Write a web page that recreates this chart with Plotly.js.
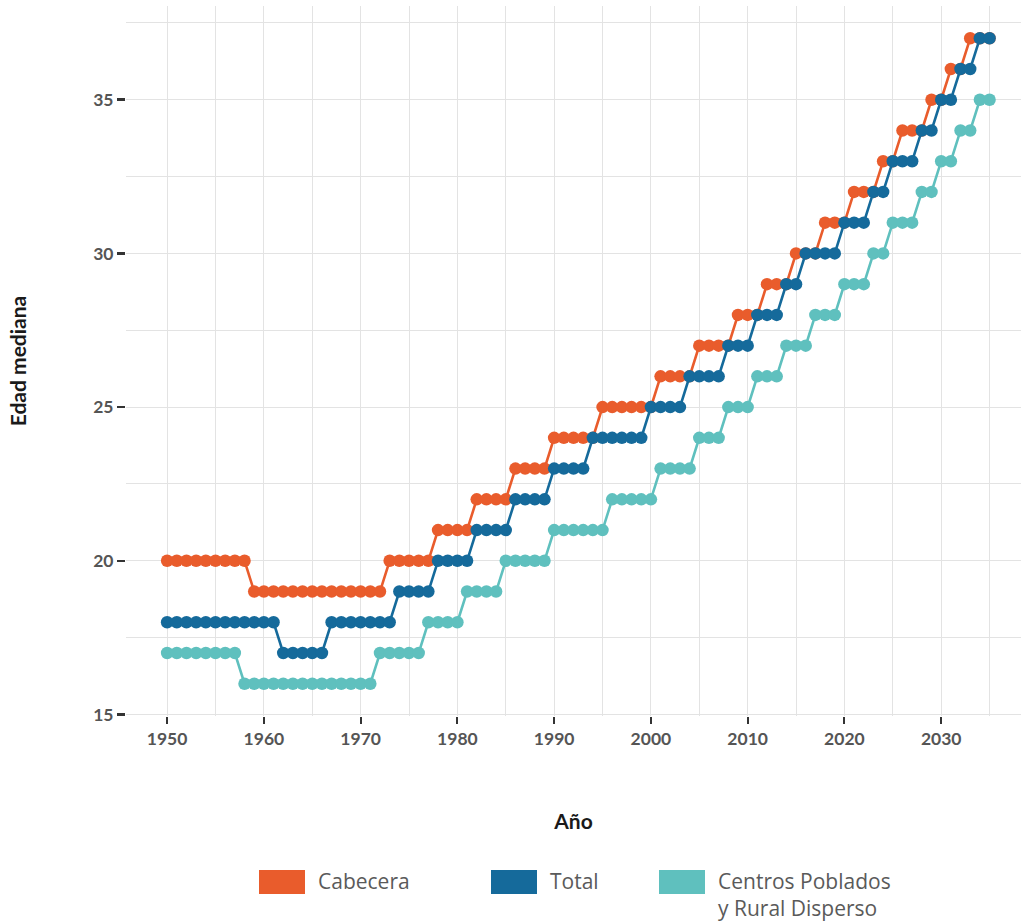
<!DOCTYPE html>
<html>
<head>
<meta charset="utf-8">
<script src="https://cdn.plot.ly/plotly-3.0.1.min.js"></script>
<style>
html,body{margin:0;padding:0;background:#fff;}
#chart{width:1021px;height:924px;}
</style>
</head>
<body>
<div id="chart"></div>
<script>
const years = [1950,1951,1952,1953,1954,1955,1956,1957,1958,1959,
  1960,1961,1962,1963,1964,1965,1966,1967,1968,1969,
  1970,1971,1972,1973,1974,1975,1976,1977,1978,1979,
  1980,1981,1982,1983,1984,1985,1986,1987,1988,1989,
  1990,1991,1992,1993,1994,1995,1996,1997,1998,1999,
  2000,2001,2002,2003,2004,2005,2006,2007,2008,2009,
  2010,2011,2012,2013,2014,2015,2016,2017,2018,2019,
  2020,2021,2022,2023,2024,2025,2026,2027,2028,2029,
  2030,2031,2032,2033,2034,2035];

const cabecera = [20,20,20,20,20,20,20,20,20,19,
  19,19,19,19,19,19,19,19,19,19,
  19,19,19,20,20,20,20,20,21,21,
  21,21,22,22,22,22,23,23,23,23,
  24,24,24,24,24,25,25,25,25,25,
  25,26,26,26,26,27,27,27,27,28,
  28,28,29,29,29,30,30,30,31,31,
  31,32,32,32,33,33,34,34,34,35,
  35,36,36,37,37,37];

const total = [18,18,18,18,18,18,18,18,18,18,
  18,18,17,17,17,17,17,18,18,18,
  18,18,18,18,19,19,19,19,20,20,
  20,20,21,21,21,21,22,22,22,22,
  23,23,23,23,24,24,24,24,24,24,
  25,25,25,25,26,26,26,26,27,27,
  27,28,28,28,29,29,30,30,30,30,
  31,31,31,32,32,33,33,33,34,34,
  35,35,36,36,37,37];

const rural = [17,17,17,17,17,17,17,17,16,16,
  16,16,16,16,16,16,16,16,16,16,
  16,16,17,17,17,17,17,18,18,18,
  18,19,19,19,19,20,20,20,20,20,
  21,21,21,21,21,21,22,22,22,22,
  22,23,23,23,23,24,24,24,25,25,
  25,26,26,26,27,27,27,28,28,28,
  29,29,29,30,30,31,31,31,32,32,
  33,33,34,34,35,35];

const seriesNames = ['Cabecera', 'Total', 'Centros Poblados<br>y Rural Disperso'];
const seriesColors = ['#E95C2C', '#156A9B', '#5FC0BE'];
const seriesValues = [cabecera, total, rural];

const xTickVals = [1950,1960,1970,1980,1990,2000,2010,2020,2030];
const yTickVals = [15,20,25,30,35];

const W = 1021, H = 924;
const M = {l:126, r:0, t:6, b:208};
const PW = W - M.l - M.r, PH = H - M.t - M.b;
const px = x => (x - M.l) / PW;
const py = y => (H - M.b - y) / PH;

const traces = seriesValues.map((vals, i) => ({
  type: 'scatter',
  mode: 'lines+markers',
  x: years,
  y: vals,
  name: seriesNames[i],
  showlegend: false,
  line: {color: seriesColors[i], width: 2.6},
  marker: {color: seriesColors[i], size: 12.5},
  hoverinfo: 'x+y+name'
}));

// legend built from swatch shapes + text annotations
const legendSwatchX = [259, 491, 659];
const shapes = [];
const annotations = [];
seriesNames.forEach((n, i) => {
  const x0 = legendSwatchX[i];
  shapes.push({type:'rect', xref:'paper', yref:'paper',
    x0: px(x0), x1: px(x0 + 46), y0: py(894), y1: py(870),
    fillcolor: seriesColors[i], line:{width:0}});
  annotations.push({xref:'paper', yref:'paper', x: px(x0 + 57), y: py(865),
    xanchor:'left', yanchor:'top', align:'left', showarrow:false,
    text: n, font:{family:'Open Sans, sans-serif', size:21, color:'#5a5a5a'}});
});

const gridColor = '#E3E3E3';
const layout = {
  width: W, height: H,
  margin: M,
  paper_bgcolor: '#ffffff',
  plot_bgcolor: '#ffffff',
  showlegend: false,
  font: {family: 'Lato, sans-serif', color: '#555555'},
  xaxis: {
    range: [1945.75, 2038.25],
    tickvals: xTickVals,
    ticks: 'outside', ticklen: 7, tickwidth: 2, tickcolor: '#333333',
    showgrid: true, gridcolor: gridColor, gridwidth: 1,
    minor: {dtick: 5, tick0: 1950, showgrid: true, gridcolor: gridColor, gridwidth: 1},
    zeroline: false, showline: false,
    tickfont: {family: 'Lato, sans-serif', size: 17.5, color: '#555555', weight: 'bold'},
    title: {text: 'Año', standoff: 66, font: {family: 'Lato, sans-serif', size: 21, color: '#1a1a1a', weight: 'bold'}}
  },
  yaxis: {
    range: [14.95, 38.05],
    tickvals: yTickVals,
    ticks: 'outside', ticklen: 8, tickwidth: 2.5, tickcolor: '#333333',
    showgrid: true, gridcolor: gridColor, gridwidth: 1,
    minor: {dtick: 2.5, tick0: 15, showgrid: true, gridcolor: gridColor, gridwidth: 1},
    zeroline: false, showline: false,
    tickfont: {family: 'Lato, sans-serif', size: 17.5, color: '#555555', weight: 'bold'},
    title: {text: 'Edad mediana', standoff: 60, font: {family: 'Lato, sans-serif', size: 21, color: '#1a1a1a', weight: 'bold'}}
  },
  shapes: shapes,
  annotations: annotations
};

Plotly.newPlot('chart', traces, layout, {staticPlot: true, displayModeBar: false});
</script>
</body>
</html>
